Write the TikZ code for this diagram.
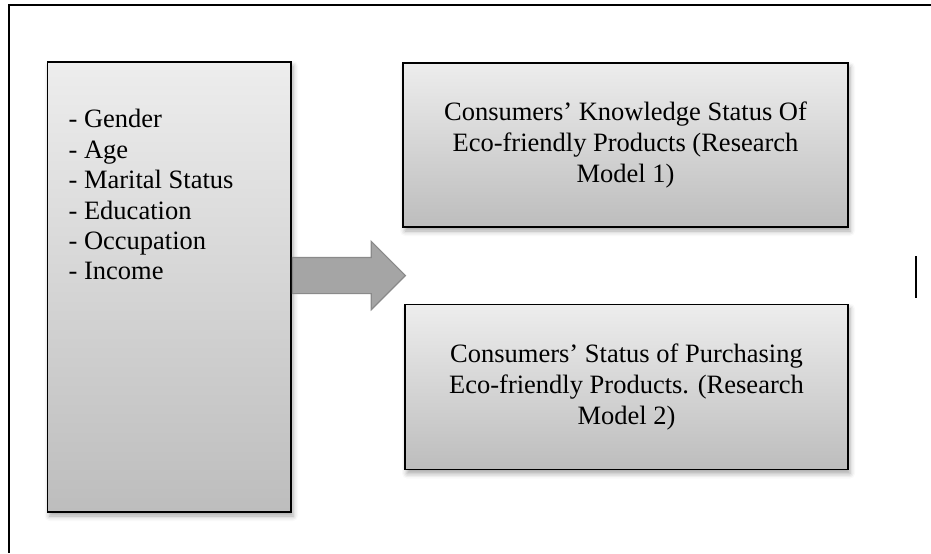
\documentclass[tikz,border=0pt]{standalone}
\usepackage{fontspec}
\setmainfont{Liberation Serif}
\usepackage{xcolor}
\usetikzlibrary{shapes.arrows, positioning, shadows.blur}

\definecolor{boxtop}{HTML}{EDEDED}
\definecolor{boxbottom}{HTML}{BDBDBD}
\definecolor{arrowfill}{HTML}{A5A5A5}
\definecolor{arrowline}{HTML}{8A8A8A}

\begin{document}
\begin{tikzpicture}[x=0.5pt, y=-0.5pt, node distance=38pt]
\tikzstyle{block} = [rectangle, draw=black, line width=0.8pt,
    top color=boxtop, bottom color=boxbottom, inner sep=0pt,
    blur shadow={shadow xshift=1pt, shadow yshift=-2pt,
    shadow blur radius=2.5pt, shadow opacity=35}]
\tikzstyle{model} = [block, minimum width=222.5pt, minimum height=82pt,
    align=center, font=\fontsize{13.25pt}{15.5pt}\selectfont]
\tikzstyle{items} = [align=left, inner sep=0pt,
    font=\fontsize{13.25pt}{15.2pt}\selectfont]
\tikzstyle{flowarrow} = [single arrow, draw=arrowline, fill=arrowfill,
    line width=0.6pt, minimum width=33.5pt, minimum height=56.5pt,
    single arrow head extend=8pt, inner xsep=0pt, inner ysep=8.75pt]

\useasboundingbox (0,0) rectangle (931,553);

% --- frame, open on the right and at the bottom ---
\draw[line width=1pt] (931,5) -- (9,5) -- (9,553);
\draw[line width=1pt] (916,256) -- (916,298);

% --- demographic variables ---
\node (demo) [block, minimum width=121.75pt, minimum height=225pt]
    at (169.25,287) {};
\node (demoitems) [items, anchor=north west]
    at ([xshift=10.75pt, yshift=-24pt]demo.north west)
    {- Gender\\- Age\\- Marital Status\\- Education\\- Occupation\\- Income};

% --- research models ---
\node (know) [model] at (625.5,145)
    {Consumers’ Knowledge Status Of\\Eco-friendly Products (Research\\Model 1)};
\node (buy) [model, below=of know, xshift=0.5pt,
    minimum width=221.5pt, minimum height=82.5pt]
    {Consumers’ Status of Purchasing\\Eco-friendly Products. (Research\\Model 2)};

\node (flow) [flowarrow, anchor=tail] at ([yshift=5.75pt]demo.east) {};
\end{tikzpicture}
\end{document}
